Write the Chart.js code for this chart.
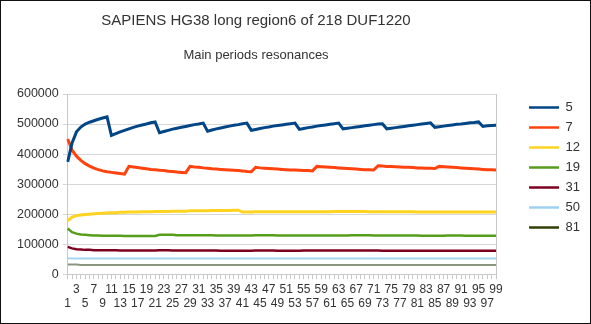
<!DOCTYPE html>
<html>
<head>
<meta charset="utf-8">
<script src="https://cdn.jsdelivr.net/npm/chart.js@4.4.1/dist/chart.umd.min.js"></script>
<style>
  html, body { margin: 0; padding: 0; background: #fff; }
  #frame { position: relative; width: 591px; height: 324px; box-sizing: border-box; border: 1px solid #111;
           font-family: 'Liberation Sans', Arial, sans-serif; }
  #frame canvas { position: absolute; left: 0; top: 0; }
  .ttl { position: absolute; left: 0; width: 510px; text-align: center; color: #333; }
  #title { top: 9px; font-size: 15px; line-height: 20px; }
  #subtitle { top: 45px; font-size: 13px; line-height: 18px; }
</style>
</head>
<body>
<div id="frame">
  <canvas id="chart" width="589" height="322"></canvas>
  <div class="ttl" id="title">SAPIENS HG38 long region6 of 218 DUF1220</div>
  <div class="ttl" id="subtitle">Main periods resonances</div>
</div>
<script>
const categories = [
  '1','2','3','4','5','6','7','8','9','10','11','12','13','14','15','16','17','18','19','20',
  '21','22','23','24','25','26','27','28','29','30','31','32','33','34','35','36','37','38','39','40',
  '41','42','43','44','45','46','47','48','49','50','51','52','53','54','55','56','57','58','59','60',
  '61','62','63','64','65','66','67','68','69','70','71','72','73','74','75','76','77','78','79','80',
  '81','82','83','84','85','86','87','88','89','90','91','92','93','94','95','96','97','98','99'
];

const seriesNames = ['5', '7', '12', '19', '31', '50', '81'];

const period5 = [
  374000, 437000, 474000, 490000, 500000, 506000, 511000, 516000, 520000, 524000,
  462000, 468000, 474000, 479000, 484000, 489000, 493000, 497000, 500000, 504000, 507000,
  471000, 475000, 479000, 483000, 486000, 489000, 492000, 495000, 498000, 500000, 503000,
  476000, 480000, 484000, 487000, 490000, 493000, 496000, 498000, 501000, 503000,
  479000, 482000, 485000, 488000, 490000, 493000, 495000, 497000, 499000, 501000, 503000,
  482000, 485000, 488000, 490000, 493000, 495000, 497000, 499000, 501000, 503000,
  484000, 486000, 488000, 490000, 492000, 494000, 496000, 498000, 500000, 501000,
  484000, 486000, 488000, 490000, 492000, 494000, 496000, 498000, 500000, 502000, 504000,
  489000, 491000, 493000, 495000, 497000, 499000, 500000, 502000, 504000, 505000, 507000,
  492000, 494000, 495000, 496000
];

const period7 = [
  450000, 413000, 393000, 379000, 368000, 360000, 353000, 348000, 344000, 341000, 339000, 337000, 335000, 333000,
  359000, 357000, 355000, 353000, 351000, 349000, 348000, 346000, 345000, 343000, 342000, 340000, 339000, 338000,
  359000, 357000, 356000, 354000, 353000, 351000, 350000, 349000, 348000, 347000, 346000, 345000, 344000, 342000, 341000,
  356000, 354000, 353000, 352000, 351000, 350000, 349000, 348000, 347000, 347000, 346000, 345000, 345000, 344000,
  359000, 358000, 357000, 356000, 355000, 354000, 353000, 352000, 351000, 350000, 349000, 348000, 348000, 347000,
  361000, 360000, 359000, 359000, 358000, 357000, 356000, 356000, 355000, 354000, 354000, 353000, 353000, 352000,
  359000, 358000, 357000, 356000, 355000, 354000, 353000, 352000, 351000, 350000, 349000, 348000, 348000, 347000
];

const period12 = [
  178000, 190000, 195000, 197000, 199000, 200000, 201000, 202000, 203000, 204000,
  205000, 205000, 206000, 206000, 207000, 207000, 207000, 208000, 208000, 208000,
  209000, 209000, 209000, 209000, 210000, 210000, 210000, 210000, 211000, 211000,
  211000, 211000, 211000, 212000, 212000, 212000, 212000, 212000, 213000, 213000,
  207000, 207000, 207000, 208000, 208000, 208000, 208000, 208000, 208000, 208000,
  208000, 208000, 208000, 208000, 208000, 208000, 208000, 208000, 208000, 208000,
  208000, 209000, 209000, 209000, 209000, 209000, 209000, 209000, 209000, 208000,
  208000, 208000, 208000, 208000, 208000, 208000, 208000, 208000, 208000, 208000,
  207000, 207000, 207000, 207000, 207000, 207000, 207000, 207000, 207000, 207000,
  207000, 207000, 207000, 207000, 207000, 207000, 207000, 207000, 207000
];

const period19 = [
  152000, 140000, 135000, 132000, 131000, 130000, 129000, 129000, 128000, 128000,
  128000, 128000, 128000, 127000, 127000, 127000, 127000, 127000, 127000, 127000, 127000,
  131000, 131000, 131000, 131000, 130000, 130000, 130000, 130000, 130000, 130000, 130000,
  130000, 130000, 129000, 129000, 129000, 129000, 129000, 129000, 129000, 129000, 129000,
  130000, 130000, 130000, 130000, 130000, 129000, 129000, 129000, 129000, 129000, 129000,
  129000, 129000, 129000, 129000, 129000, 129000, 129000, 129000, 129000, 129000, 129000,
  130000, 130000, 130000, 130000, 130000, 129000, 129000, 129000, 129000, 129000, 129000,
  129000, 129000, 129000, 129000, 129000, 128000, 128000, 128000, 128000, 128000, 128000,
  129000, 129000, 129000, 129000, 128000, 128000, 128000, 128000, 128000, 128000, 128000, 128000
];

const period31 = [
  91000, 86000, 83000, 82000, 81000, 81000, 80000, 80000, 80000, 80000,
  80000, 80000, 79000, 79000, 79000, 79000, 79000, 79000, 79000, 79000,
  79000, 80000, 80000, 80000, 79000, 79000, 79000, 79000, 79000, 79000,
  79000, 79000, 79000, 79000, 79000, 78000, 78000, 78000, 78000, 78000,
  78000, 78000, 78000, 79000, 79000, 79000, 79000, 79000, 78000, 78000,
  78000, 78000, 78000, 78000, 79000, 79000, 79000, 79000, 79000, 79000,
  79000, 79000, 79000, 79000, 79000, 79000, 79000, 79000, 79000, 79000,
  79000, 79000, 78000, 78000, 78000, 78000, 78000, 78000, 78000, 78000,
  78000, 78000, 78000, 78000, 78000, 78000, 78000, 78000, 78000, 78000,
  78000, 78000, 78000, 78000, 78000, 78000, 78000, 78000, 78000
];

const period50 = [
  53000, 52000, 52000, 52000, 52000, 52000, 52000, 52000, 52000, 52000,
  52000, 52000, 52000, 52000, 52000, 52000, 52000, 52000, 52000, 52000,
  52000, 52000, 52000, 52000, 52000, 52000, 52000, 52000, 52000, 52000,
  52000, 52000, 52000, 52000, 52000, 52000, 52000, 52000, 52000, 52000,
  52000, 52000, 52000, 52000, 52000, 52000, 52000, 52000, 52000, 52000,
  52000, 52000, 52000, 52000, 52000, 52000, 52000, 52000, 52000, 52000,
  52000, 52000, 52000, 52000, 52000, 52000, 52000, 52000, 52000, 52000,
  52000, 52000, 52000, 52000, 52000, 52000, 52000, 52000, 52000, 52000,
  52000, 52000, 52000, 52000, 52000, 52000, 52000, 52000, 52000, 52000,
  52000, 52000, 52000, 52000, 52000, 52000, 52000, 52000, 52000
];

const period81 = [
  32000, 32000, 32000, 31000, 31000, 31000, 31000, 31000, 31000, 31000,
  31000, 31000, 31000, 31000, 31000, 31000, 31000, 31000, 31000, 31000,
  31000, 31000, 31000, 31000, 31000, 31000, 31000, 31000, 31000, 31000,
  31000, 31000, 31000, 31000, 31000, 31000, 31000, 31000, 31000, 31000,
  31000, 31000, 31000, 31000, 31000, 31000, 31000, 31000, 31000, 31000,
  31000, 31000, 31000, 31000, 31000, 31000, 31000, 31000, 31000, 31000,
  31000, 31000, 31000, 31000, 31000, 31000, 31000, 31000, 31000, 31000,
  31000, 31000, 31000, 31000, 31000, 31000, 31000, 31000, 31000, 31000,
  31000, 31000, 31000, 31000, 31000, 31000, 31000, 31000, 31000, 31000,
  31000, 31000, 31000, 31000, 31000, 31000, 31000, 31000, 31000
];

const yTicks = [0, 100000, 200000, 300000, 400000, 500000, 600000];

const allSeries = [period5, period7, period12, period19, period31, period50, period81];
const lineColors = ['#004586', '#ff420e', '#ffd320', '#579d1c', '#7e0021', '#a6d5f2', '#8a9580'];
const legendColors = ['#004586', '#ff420e', '#ffd320', '#579d1c', '#7e0021', '#9fd0f2', '#314004'];
const lineWidths = [3, 3, 3, 2.5, 2.5, 2, 2];

const FONT = "'Liberation Sans', Arial, sans-serif";

window.onload = () => {
    const ctx = document.getElementById('chart').getContext('2d');

    new Chart(ctx, {
        type: 'line',
        data: {
            labels: categories,
            datasets: seriesNames.map((name, i) => ({
                label: name,
                data: allSeries[i],
                borderColor: lineColors[i],
                backgroundColor: lineColors[i],
                borderWidth: lineWidths[i],
                pointRadius: 0,
                tension: 0
            }))
        },
        options: {
            responsive: false,
            animation: false,
            layout: { padding: { top: 93, left: 12, right: 0, bottom: 9 } },
            plugins: {
                tooltip: { enabled: false },
                legend: {
                    position: 'right',
                    align: 'start',
                    labels: {
                        usePointStyle: true,
                        pointStyle: 'line',
                        pointStyleWidth: 30,
                        boxHeight: 13,
                        padding: 7,
                        color: '#333',
                        font: { family: FONT, size: 13 },
                        generateLabels: (chart) =>
                            Chart.defaults.plugins.legend.labels.generateLabels(chart)
                                .map((item, i) => ({ ...item, strokeStyle: legendColors[i], lineWidth: 2.5 }))
                    }
                }
            },
            scales: {
                x: {
                    grid: { drawOnChartArea: false, tickLength: 5, color: '#c8c8c8' },
                    border: { color: '#c8c8c8' },
                    ticks: {
                        autoSkip: false,
                        maxRotation: 0,
                        minRotation: 0,
                        padding: 3,
                        color: '#333',
                        font: { family: FONT, size: 12 },
                        callback: function (value, index) {
                            const lab = this.getLabelForValue(value);
                            if (index % 2) return '';
                            return index % 4 === 0 ? ['', lab] : lab;
                        }
                    }
                },
                y: {
                    min: yTicks[0],
                    max: yTicks[yTicks.length - 1],
                    afterBuildTicks: (scale) => { scale.ticks = yTicks.map(v => ({ value: v })); },
                    grid: { color: '#d6d6d6', tickLength: 5 },
                    border: { color: '#c8c8c8' },
                    ticks: {
                        padding: 4,
                        color: '#333',
                        font: { family: FONT, size: 12.5 },
                        callback: v => String(v)
                    }
                },
                y2: {
                    position: 'right',
                    min: yTicks[0],
                    max: yTicks[yTicks.length - 1],
                    grid: { drawOnChartArea: false, drawTicks: false },
                    border: { color: '#c8c8c8' },
                    ticks: { display: false },
                    afterFit: (scale) => { scale.width = 26; }
                }
            }
        }
    });
};
</script>
</body>
</html>
